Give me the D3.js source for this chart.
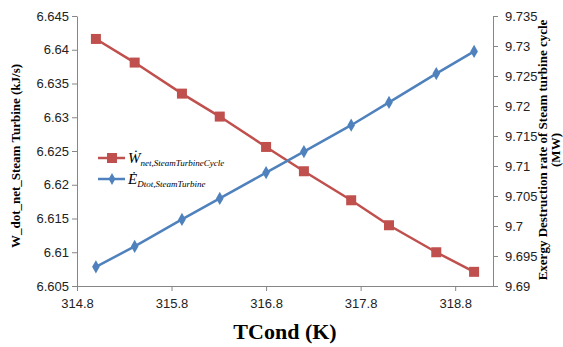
<!DOCTYPE html>
<html>
<head>
<meta charset="utf-8">
<script src="https://cdn.jsdelivr.net/npm/d3@7"></script>
<style>
  body { margin: 0; background: #fff; }
  svg { display: block; }
</style>
</head>
<body>
<div id="chart"></div>
<script>
// condenser temperature (K)
const tCond = [315.0, 315.41, 315.91, 316.31, 316.8, 317.2, 317.7, 318.1, 318.6, 319.0];
// net work of steam turbine cycle (left axis)
const wNet = [6.6416, 6.6381, 6.6335, 6.6301, 6.6256, 6.6220, 6.6177, 6.6140, 6.6100, 6.6071];
// exergy destruction rate (right axis)
const eDtot = [9.6932, 9.6966, 9.7011, 9.7046, 9.7089, 9.7124, 9.7168, 9.7206, 9.7254, 9.7291];

const xTicks = [314.8, 315.8, 316.8, 317.8, 318.8];
const leftTicks = [6.605, 6.61, 6.615, 6.62, 6.625, 6.63, 6.635, 6.64, 6.645];
const rightTicks = [9.69, 9.695, 9.7, 9.705, 9.71, 9.715, 9.72, 9.725, 9.73, 9.735];

const width = 563, height = 347;
const plot = { left: 77, right: 493, top: 16, bottom: 286 };

const red = "#C0504D", blue = "#4F81BD", axisColor = "#868686";
const serif = "'Liberation Serif', 'Times New Roman', serif";
const sans = "'Liberation Sans', Arial, sans-serif";

const svg = d3.select("#chart").append("svg")
  .attr("width", width)
  .attr("height", height);

const x = d3.scaleLinear().domain([314.8, 319.2]).range([plot.left, plot.right]);
const yL = d3.scaleLinear().domain([6.605, 6.645]).range([plot.bottom, plot.top]);
const yR = d3.scaleLinear().domain([9.69, 9.735]).range([plot.bottom, plot.top]);

const styleAxis = g => {
  g.selectAll("path, line").attr("stroke", axisColor);
  g.selectAll("text")
    .style("font-family", sans)
    .style("font-size", "13px")
    .attr("fill", "#222");
};

svg.append("g")
  .attr("transform", `translate(0,${plot.bottom})`)
  .call(d3.axisBottom(x).tickValues(xTicks).tickFormat(d3.format(".1f")).tickSize(5).tickSizeOuter(0))
  .call(styleAxis)
  .call(g => g.selectAll("text").attr("dy", "1.1em"));

svg.append("g")
  .attr("transform", `translate(${plot.left},0)`)
  .call(d3.axisLeft(yL).tickValues(leftTicks).tickFormat(d => d3.format(".3~f")(d)).tickSize(5).tickSizeOuter(0))
  .call(styleAxis);

svg.append("g")
  .attr("transform", `translate(${plot.right},0)`)
  .call(d3.axisRight(yR).tickValues(rightTicks).tickFormat(d => d3.format(".3~f")(d)).tickSize(5).tickSizeOuter(0))
  .call(styleAxis)
  .call(g => g.selectAll("text").attr("x", 12));

// lines
const lineW = d3.line().x((d, i) => x(tCond[i])).y(d => yL(d));
const lineE = d3.line().x((d, i) => x(tCond[i])).y(d => yR(d));

svg.append("path")
  .attr("d", lineW(wNet))
  .attr("fill", "none")
  .attr("stroke", red)
  .attr("stroke-width", 2.5);

svg.append("path")
  .attr("d", lineE(eDtot))
  .attr("fill", "none")
  .attr("stroke", blue)
  .attr("stroke-width", 2.5);

// markers
svg.append("g").selectAll("rect")
  .data(wNet)
  .join("rect")
  .attr("x", (d, i) => x(tCond[i]) - 5)
  .attr("y", d => yL(d) - 5)
  .attr("width", 10)
  .attr("height", 10)
  .attr("fill", red);

const diamond = d3.symbol().type(d3.symbolDiamond).size(50);
svg.append("g").selectAll("path")
  .data(eDtot)
  .join("path")
  .attr("d", diamond)
  .attr("transform", (d, i) => `translate(${x(tCond[i])},${yR(d)})`)
  .attr("fill", blue);

// axis titles
const title = (sel, size) => sel
  .attr("text-anchor", "middle")
  .style("font-family", serif)
  .style("font-weight", "bold")
  .style("font-size", size + "px");

svg.append("text")
  .attr("x", 285)
  .attr("y", 339)
  .call(title, 22)
  .text("TCond (K)");

svg.append("text")
  .attr("transform", "translate(20,156) rotate(-90)")
  .call(title, 13)
  .text("W_dot_net_Steam Turbine (kJ/s)");

svg.append("text")
  .attr("transform", "translate(547,150) rotate(-90)")
  .call(title, 13)
  .text("Exergy Destruction rate of Steam turbine cycle");

svg.append("text")
  .attr("transform", "translate(560,150) rotate(-90)")
  .call(title, 13)
  .text("(MW)");

// legend
const legend = [
  { color: red, sym: "W", sub: "net,SteamTurbineCycle", marker: "square", y: 158 },
  { color: blue, sym: "E", sub: "Dtot,SteamTurbine", marker: "diamond", y: 179 }
];
const lg = svg.append("g").selectAll("g")
  .data(legend)
  .join("g")
  .attr("transform", d => `translate(98,${d.y})`);
lg.append("line")
  .attr("x1", 0).attr("x2", 27)
  .attr("stroke", d => d.color)
  .attr("stroke-width", 2.5);
lg.filter(d => d.marker === "square").append("rect")
  .attr("x", 9).attr("y", -5).attr("width", 10).attr("height", 10)
  .attr("fill", d => d.color);
lg.filter(d => d.marker === "diamond").append("path")
  .attr("d", d3.symbol().type(d3.symbolDiamond).size(40))
  .attr("transform", "translate(14,0)")
  .attr("fill", d => d.color);
const lt = lg.append("text")
  .attr("x", 30)
  .attr("y", 5)
  .style("font-family", serif)
  .style("font-style", "italic")
  .attr("fill", "#000");
lt.append("tspan").style("font-size", "15px").text(d => d.sym + "\u0307");
lt.append("tspan").style("font-size", "9px").attr("dy", 3).text(d => d.sub);
</script>
</body>
</html>
